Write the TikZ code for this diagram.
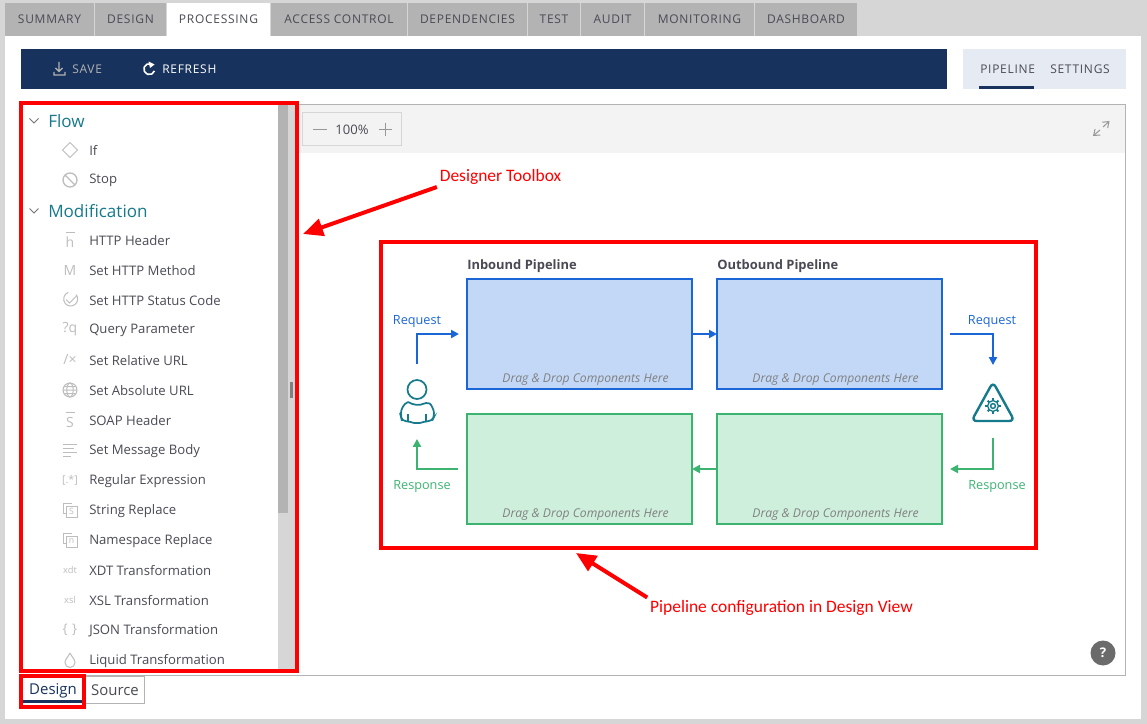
\documentclass[tikz,border=0pt]{standalone}
\usepackage{fontspec}
\setmainfont{Open Sans}
\newfontfamily\capsfont[LetterSpace=6]{Open Sans}
\newfontfamily\notefont{Carlito}
\usetikzlibrary{positioning,calc,arrows.meta}

\definecolor{shellgray}{HTML}{D6D6D6}
\definecolor{tabgray}{HTML}{B3B3B3}
\definecolor{navy}{HTML}{17325C}
\definecolor{paleblue}{HTML}{E6EBF3}
\definecolor{stripgray}{HTML}{F3F3F3}
\definecolor{bluedge}{HTML}{1A66D6}
\definecolor{bluefill}{HTML}{C3D8F7}
\definecolor{greenedge}{HTML}{3CB371}
\definecolor{greenfill}{HTML}{CEEFDC}
\definecolor{teal}{HTML}{167A8C}
\definecolor{inktext}{HTML}{4A4A55}
\definecolor{icongray}{HTML}{BDBDBD}

\tikzset{
  tabbox/.style={fill=tabgray, text=inktext, minimum height=33*0.75pt, inner sep=0pt, outer sep=0pt, font=\capsfont\fontsize{9}{11}\selectfont},
  toolitem/.style={anchor=west, inner sep=0pt, text=inktext, font=\fontsize{9.85}{12}\selectfont},
  toolgroup/.style={anchor=west, inner sep=0pt, text=teal, font=\fontsize{12.8}{16}\selectfont},
  glyphicon/.style={inner sep=0pt, text=icongray, font=\fontsize{10.5}{12}\selectfont},
  iconline/.style={draw=icongray, line width=0.75pt},
  redframe/.style={draw=red, line width=3pt, inner sep=0pt, outer sep=0pt, anchor=north west},
  redarrow/.style={draw=red, line width=3pt, -{Triangle[length=15pt,width=13pt]}},
  rednote/.style={text=red, inner sep=2pt, font=\notefont\fontsize{13.1}{15}\selectfont},
  stagebox/.style={line width=1.5pt, minimum width=225*0.75pt, minimum height=110*0.75pt, inner sep=0pt, outer sep=0pt, anchor=north west},
  dropnote/.style={anchor=south east, inner sep=0pt, text=gray, font=\itshape\fontsize{9.1}{11}\selectfont},
  stagetitle/.style={anchor=south west, inner sep=0pt, text=inktext, font=\bfseries\fontsize{9.7}{12}\selectfont},
  bluelabel/.style={inner sep=0pt, text=bluedge, font=\fontsize{9.5}{12}\selectfont},
  greenlabel/.style={inner sep=0pt, text=greenedge, font=\fontsize{9.5}{12}\selectfont},
  bluepipe/.style={draw=bluedge, line width=1.5pt, -{Triangle[length=6pt,width=6pt]}},
  greenpipe/.style={draw=greenedge, line width=1.5pt, -{Triangle[length=6pt,width=6pt]}},
}

\begin{document}
\begin{tikzpicture}[x=0.75pt, y=-0.75pt]
  \useasboundingbox (0,0) rectangle (1147,724);

  % Window background and white page
  \fill[shellgray] (0,0) rectangle (1147,724);
  \fill[white] (5,36) rectangle (1141,719);

  % Tabs along the top
  \node (tab_summary) [tabbox, minimum width=89*0.75pt, anchor=north west] at (5,3) {SUMMARY};
  \node (tab_design) [tabbox, minimum width=71*0.75pt, right=0.75pt of tab_summary] {DESIGN};
  \node (tab_processing) [tabbox, fill=white, minimum width=103*0.75pt, right=0.75pt of tab_design] {PROCESSING};
  \node (tab_access) [tabbox, minimum width=136*0.75pt, right=0.75pt of tab_processing] {ACCESS CONTROL};
  \node (tab_depend) [tabbox, minimum width=119*0.75pt, right=0.75pt of tab_access] {DEPENDENCIES};
  \node (tab_test) [tabbox, minimum width=52*0.75pt, right=0.75pt of tab_depend] {TEST};
  \node (tab_audit) [tabbox, minimum width=63*0.75pt, right=0.75pt of tab_test] {AUDIT};
  \node (tab_monitor) [tabbox, minimum width=109*0.75pt, right=0.75pt of tab_audit] {MONITORING};
  \node (tab_dash) [tabbox, minimum width=102*0.75pt, right=0.75pt of tab_monitor] {DASHBOARD};

  % Command bar
  \fill[navy] (21,49) rectangle (947,89);
  \node (cmd_save) [anchor=west, inner sep=0pt, text=tabgray, font=\capsfont\fontsize{9}{11}\selectfont] at (72,69.5) {SAVE};
  \node (cmd_refresh) [anchor=west, inner sep=0pt, text=white, font=\capsfont\fontsize{9}{11}\selectfont] at (162,69.5) {REFRESH};
  \draw[tabgray, line width=0.9pt] (59,62) -- (59,71) (55.5,68) -- (59,71.5) -- (62.5,68) (54,72) -- (54,75) -- (65,75) -- (65,72);
  \draw[white, line width=1.2pt] (154.5,71) arc[start angle=20, delta angle=270, radius=5.5];
  \fill[white] (148.5,61.5) -- (154.5,64.5) -- (150,68) -- cycle;

  % Pipeline and settings switch
  \fill[paleblue] (963,49) rectangle (1126,89);
  \node (sw_pipeline) [anchor=west, inner sep=0pt, text=inktext, font=\capsfont\fontsize{9}{11}\selectfont] at (980,69.5) {PIPELINE};
  \node (sw_settings) [anchor=west, inner sep=0pt, text=inktext, font=\capsfont\fontsize{9}{11}\selectfont] at (1050,69.5) {SETTINGS};
  \fill[navy] (979,86) rectangle (1034,89);

  % Design canvas
  \fill[stripgray] (298,105) rectangle (1126,153);
  \draw[tabgray, line width=0.75pt] (298,104.5) -- (1125.5,104.5) -- (1125.5,675) -- (20,675);
  \node (zoom_box) [draw=shellgray, line width=0.75pt, minimum width=99*0.75pt, minimum height=33*0.75pt, inner sep=0pt, anchor=north west] at (302,112.5) {};
  \node (zoom_level) [inner sep=0pt, text=inktext, font=\fontsize{9.8}{12}\selectfont] at (352,129.5) {100\%};
  \draw[icongray!80!black, line width=0.75pt] (313,129.5) -- (327,129.5) (379,129.5) -- (392,129.5) (385.5,123) -- (385.5,136);
  \draw[icongray!80!black, line width=0.75pt, -{Straight Barb[length=4pt,width=6pt]}] (1103,127) -- (1109.5,121);
  \draw[icongray!80!black, line width=0.75pt, -{Straight Barb[length=4pt,width=6pt]}] (1100,130) -- (1093,136);
  \node (help_btn) [circle, fill=black!58, minimum size=25*0.75pt, inner sep=0pt, text=white, font=\bfseries\fontsize{10}{12}\selectfont] at (1103,653) {?};

  % Toolbox scrollbar
  \fill[shellgray] (278,105) rectangle (296,670);
  \fill[tabgray] (278,105) rectangle (288,513);
  \fill[black!50] (290,382) rectangle (293,398);

  % Toolbox groups and items
  \draw[black!55, line width=0.75pt] (29.5,118.5) -- (34,123) -- (38.5,118.5);
  \draw[black!55, line width=0.75pt] (29.5,208.5) -- (34,213) -- (38.5,208.5);
  \node (grp_flow) [toolgroup] at (48,121.5) {Flow};
  \node (grp_modify) [toolgroup] at (48,211) {Modification};
  \foreach \y/\name/\lbl in {150/if/If, 180/stop/Stop, 240/header/HTTP Header, 270/method/Set HTTP Method,
      300/status/Set HTTP Status Code, 330/query/Query Parameter, 360/relative/Set Relative URL,
      390/absolute/Set Absolute URL, 420/soap/SOAP Header, 450/body/Set Message Body,
      480/regex/Regular Expression, 510/string/String Replace, 540/namespace/Namespace Replace,
      570/xdt/XDT Transformation, 600/xsl/XSL Transformation, 630/json/JSON Transformation,
      660/liquid/Liquid Transformation}
    \node (item_\name) [toolitem] at (89,\y+0.8) {\lbl};

  % Toolbox icons
  \draw[iconline] (70,142.5) -- (77.5,150) -- (70,157.5) -- (62.5,150) -- cycle;
  \draw[iconline, line width=1pt] (70,180) circle[radius=7] (65,175) -- (75,185);
  \node [glyphicon] at (70,242) {h};
  \draw[iconline] (65.5,232.5) -- (74.5,232.5);
  \node [glyphicon] at (70,270.5) {M};
  \draw[iconline] (76,294.5) arc[start angle=-40, delta angle=290, radius=7];
  \draw[iconline] (66,299.5) -- (69.5,303) -- (77,295.5);
  \node [glyphicon] at (70,329) {?q};
  \node [glyphicon] at (70,360) {/×};
  \draw[iconline] (70,390) circle[radius=7] (63,390) -- (77,390) (64,386.5) -- (76,386.5) (64,393.5) -- (76,393.5);
  \draw[iconline] (70,390) ellipse[x radius=3.2, y radius=7];
  \node [glyphicon] at (70,422) {S};
  \draw[iconline] (65.5,412.5) -- (74.5,412.5);
  \foreach \y/\len in {444/77, 448/74, 452/77, 456/71}
    \draw[iconline] (63,\y) -- (\len,\y);
  \node [glyphicon, font=\fontsize{8}{10}\selectfont] at (70,480) {[.*]};
  \draw[iconline] (63,503) -- (72,503) (63,503) -- (63,513) -- (66,513);
  \draw[iconline, fill=white] (66,506) rectangle (77,517);
  \node [glyphicon, font=\fontsize{6.5}{8}\selectfont] at (71.5,511.5) {S};
  \draw[iconline] (63,533) -- (72,533) (63,533) -- (63,543) -- (66,543);
  \draw[iconline, fill=white] (66,536) rectangle (77,547);
  \node [glyphicon, font=\fontsize{6.5}{8}\selectfont] at (71.5,541.5) {n};
  \node [glyphicon, font=\fontsize{7}{9}\selectfont] at (70,569.5) {xdt};
  \node [glyphicon, font=\fontsize{7}{9}\selectfont] at (70,599.5) {xsl};
  \node [glyphicon, font=\fontsize{10}{12}\selectfont] at (70,630) {\{\,\,\}};
  \draw[iconline] (70,653) .. controls (68,657) and (65,659.5) .. (65,662.5) arc[start angle=180, delta angle=-180, radius=5] .. controls (75,659.5) and (72,657) .. (70,653);

  % Bottom view tabs
  \node (view_source) [draw=tabgray, line width=0.75pt, minimum width=59*0.75pt, minimum height=26.5*0.75pt, inner sep=0pt, anchor=north west, text=inktext, font=\fontsize{11.2}{13}\selectfont] at (85,676) {Source};
  \fill[white] (21,676) rectangle (84,700);
  \fill[navy] (22,700) rectangle (82,703);
  \node (view_design) [inner sep=0pt, text=navy, font=\fontsize{11.2}{13}\selectfont] at (53,690.5) {Design};

  % Pipeline stages
  \node (box_inreq) [stagebox, draw=bluedge, fill=bluefill] at (467,279) {};
  \node (box_outreq) [stagebox, draw=bluedge, fill=bluefill, right=25*0.75pt of box_inreq] {};
  \node (box_inresp) [stagebox, draw=greenedge, fill=greenfill] at (467,414) {};
  \node (box_outresp) [stagebox, draw=greenedge, fill=greenfill, right=25*0.75pt of box_inresp] {};
  \foreach \name in {box_inreq, box_outreq, box_inresp, box_outresp}
    \node [dropnote] at ($(\name.south east)+(-23,-3)$) {Drag \& Drop Components Here};
  \node (title_in) [stagetitle] at ($(box_inreq.north west)+(0,-6)$) {Inbound Pipeline};
  \node (title_out) [stagetitle] at ($(box_outreq.north west)+(0,-6)$) {Outbound Pipeline};

  % User and backend icons
  \node (user) [minimum size=44*0.75pt, inner sep=0pt] at (417,402) {};
  \node (backend) [minimum size=44*0.75pt, inner sep=0pt] at (993,402) {};
  \draw[teal, line width=1.3pt] (417,389.5) circle[radius=9.5];
  \draw[teal, line width=1.3pt, rounded corners=3pt] (408,402) .. controls (403,404) and (401,410) .. (401,417) -- (402,421) -- (410,421.5) .. controls (414,423) and (420,423) .. (424,421.5) -- (432,421) -- (434,417) .. controls (434,410) and (431,404) .. (426,402) .. controls (420,405.5) and (414,405.5) .. (408,402);
  \draw[teal, line width=1.1pt] (408,414) -- (408,421) (426,414) -- (426,421);
  \draw[teal, line width=1.8pt, rounded corners=4pt] (993,382) -- (1014.5,421) -- (971.5,421) -- cycle;
  \draw[teal, line width=1.1pt] (993,406) circle[radius=2.4];
  \draw[teal, line width=1pt] (993,406) circle[radius=5.4];
  \foreach \a in {0,45,...,315}
    \draw[teal, line width=1.5pt] ($(993,406)+(\a:5.2)$) -- ($(993,406)+(\a:7.6)$);

  % Request and response flow
  \node (lab_req_l) [bluelabel] at (417,321.5) {Request};
  \node (lab_req_r) [bluelabel] at (992,321.5) {Request};
  \node (lab_resp_l) [greenlabel] at (422,486.5) {Response};
  \node (lab_resp_r) [greenlabel] at (997,486.5) {Response};
  \draw[bluepipe, shorten <=12pt, shorten >=6pt] (user.north) |- (box_inreq.west);
  \draw[bluepipe] (box_inreq.east) -- (box_outreq.west);
  \draw[bluepipe, shorten <=6pt, shorten >=11pt] (box_outreq.east) -| (backend.north);
  \draw[greenpipe, shorten <=10pt, shorten >=6pt] (backend.south) |- (box_outresp.east);
  \draw[greenpipe] (box_outresp.west) -- (box_inresp.east);
  \draw[greenpipe, shorten <=7pt, shorten >=11pt] (box_inresp.west) -| (user.south);

  % Red callouts
  \node (frame_toolbox) [redframe, minimum width=276*0.75pt, minimum height=567*0.75pt] at (20.5,103.5) {};
  \node (frame_stage) [redframe, minimum width=655*0.75pt, minimum height=306*0.75pt] at (381,242) {};
  \node (frame_design) [redframe, minimum width=63*0.75pt, minimum height=31*0.75pt] at (20.5,675.5) {};
  \node (note_toolbox) [rednote] at (500.5,176.5) {Designer Toolbox};
  \node (note_stage) [rednote] at (781.5,608) {Pipeline configuration in Design View};
  \coordinate (tip_toolbox) at (303,234);
  \coordinate (tip_stage) at (576,553);
  \draw[redarrow] (note_toolbox.south west) -- (tip_toolbox);
  \draw[redarrow] (note_stage.north west) -- (tip_stage);

\end{tikzpicture}
\end{document}
